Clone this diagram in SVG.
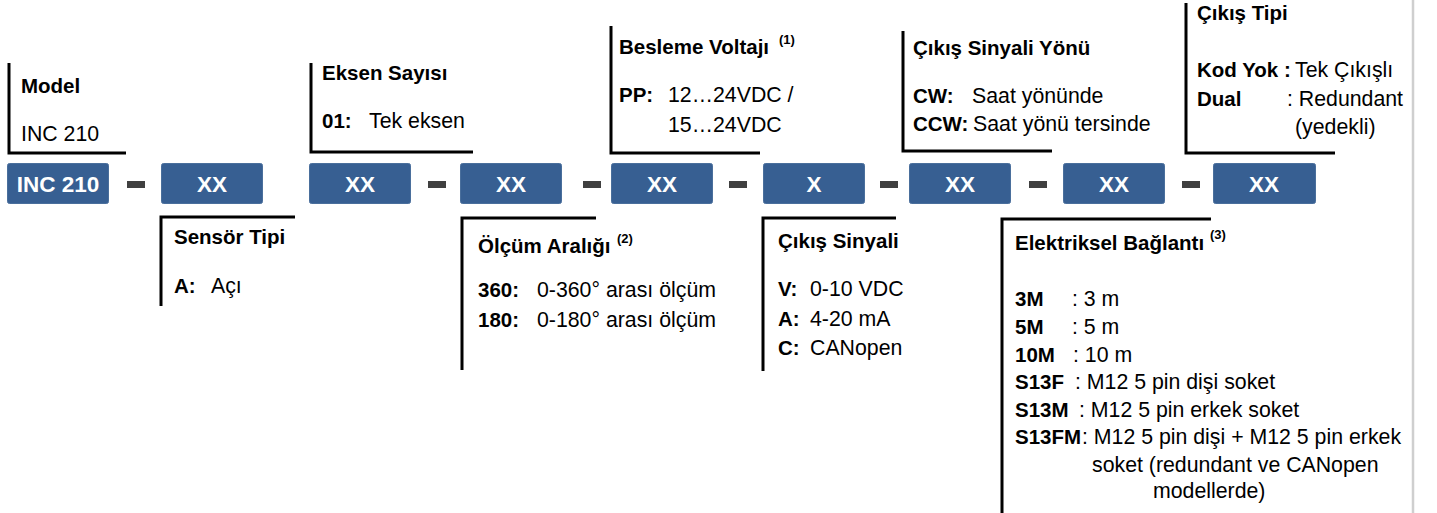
<svg xmlns="http://www.w3.org/2000/svg" width="1437" height="513" viewBox="0 0 1437 513">
<style>
text{font-family:"Liberation Sans",Arial,sans-serif;fill:#000}
.h{font-size:20.5px;font-weight:bold}
.b{font-size:20.5px;font-weight:bold}
.r{font-size:21.3px}
.sup{font-size:13px;font-weight:bold}
.box{fill:#375F92;stroke:#4a6f9c;stroke-width:1}
.bt{font-size:22.5px;font-weight:bold;fill:#fff;text-anchor:middle}
.dash{fill:#404040}
.br{fill:none;stroke:#000;stroke-width:3}
</style>
<rect width="1437" height="513" fill="#fff"/>
<line x1="1413" y1="0" x2="1413" y2="513" stroke="#cfcfcf" stroke-width="2.5"/>

<g id="connectors">
<path class="br" d="M9 63V153H126"/>
<path class="br" d="M311 63V152H473"/>
<path class="br" d="M611 26V153H760"/>
<path class="br" d="M903 31V151H1052"/>
<path class="br" d="M1186 3V153H1335"/>
<path class="br" d="M295 217H161V306"/>
<path class="br" d="M596 218H462V370"/>
<path class="br" d="M896 218H763V371"/>
<path class="br" d="M1211 219H1002V513"/>
<rect class="dash" x="127" y="181" width="18" height="7"/>
<rect class="dash" x="428" y="181" width="18" height="7"/>
<rect class="dash" x="583" y="181" width="18" height="7"/>
<rect class="dash" x="729" y="181" width="18" height="7"/>
<rect class="dash" x="880" y="181" width="18" height="7"/>
<rect class="dash" x="1029" y="181" width="18" height="7"/>
<rect class="dash" x="1182" y="181" width="18" height="7"/>
</g>

<g id="box-model"><rect class="box" x="7.5" y="163.5" width="101" height="40" rx="2"/><text class="bt" x="58" y="192">INC 210</text></g>
<g id="box-sensor"><rect class="box" x="161.5" y="163.5" width="101" height="40" rx="2"/><text class="bt" x="212" y="192">XX</text></g>
<g id="box-eksen"><rect class="box" x="309.5" y="163.5" width="101" height="40" rx="2"/><text class="bt" x="360" y="192">XX</text></g>
<g id="box-olcum"><rect class="box" x="460.5" y="163.5" width="101" height="40" rx="2"/><text class="bt" x="511" y="192">XX</text></g>
<g id="box-besleme"><rect class="box" x="611.5" y="163.5" width="101" height="40" rx="2"/><text class="bt" x="662" y="192">XX</text></g>
<g id="box-sinyal"><rect class="box" x="763.5" y="163.5" width="101" height="40" rx="2"/><text class="bt" x="814" y="192">X</text></g>
<g id="box-yon"><rect class="box" x="909.5" y="163.5" width="101" height="40" rx="2"/><text class="bt" x="960" y="192">XX</text></g>
<g id="box-baglanti"><rect class="box" x="1063.5" y="163.5" width="101" height="40" rx="2"/><text class="bt" x="1114" y="192">XX</text></g>
<g id="box-tip"><rect class="box" x="1213.5" y="163.5" width="102" height="40" rx="2"/><text class="bt" x="1264" y="192">XX</text></g>

<g id="label-model">
<text class="h" x="21" y="93">Model</text>
<text class="r" x="21" y="141">INC 210</text>
</g>
<g id="label-eksen">
<text class="h" x="322" y="80">Eksen Sayısı</text>
<text class="b" x="322" y="128">01:</text><text class="r" x="369" y="128">Tek eksen</text>
</g>
<g id="label-besleme">
<text class="h" x="619" y="54">Besleme Voltajı</text><text class="sup" x="779" y="44">(1)</text>
<text class="b" x="619" y="102">PP:</text><text class="r" x="668" y="102">12…24VDC /</text>
<text class="r" x="668" y="132">15…24VDC</text>
</g>
<g id="label-yon">
<text class="h" x="913" y="55">Çıkış Sinyali Yönü</text>
<text class="b" x="913" y="103">CW:</text><text class="r" x="972" y="103">Saat yönünde</text>
<text class="b" x="913" y="131">CCW:</text><text class="r" x="973" y="131">Saat yönü tersinde</text>
</g>
<g id="label-tip">
<text class="h" x="1197" y="20">Çıkış Tipi</text>
<text class="b" x="1197" y="77">Kod Yok :</text><text class="r" x="1295" y="77">Tek Çıkışlı</text>
<text class="b" x="1197" y="106">Dual</text><text class="r" x="1287" y="106">: Redundant</text>
<text class="r" x="1295" y="134">(yedekli)</text>
</g>
<g id="label-sensor">
<text class="h" x="174" y="244">Sensör Tipi</text>
<text class="b" x="174" y="293">A:</text><text class="r" x="211" y="293">Açı</text>
</g>
<g id="label-olcum">
<text class="h" x="478" y="253">Ölçüm Aralığı</text><text class="sup" x="617" y="243">(2)</text>
<text class="b" x="478" y="297">360:</text><text class="r" x="537" y="297">0-360° arası ölçüm</text>
<text class="b" x="478" y="327">180:</text><text class="r" x="537" y="327">0-180° arası ölçüm</text>
</g>
<g id="label-sinyal">
<text class="h" x="778" y="248">Çıkış Sinyali</text>
<text class="b" x="778" y="296">V:</text><text class="r" x="810" y="296">0-10 VDC</text>
<text class="b" x="778" y="326">A:</text><text class="r" x="810" y="326">4-20 mA</text>
<text class="b" x="778" y="355">C:</text><text class="r" x="810" y="355">CANopen</text>
</g>
<g id="label-baglanti">
<text class="h" x="1015" y="250">Elektriksel Bağlantı</text><text class="sup" x="1210" y="239">(3)</text>
<text class="b" x="1015" y="306">3M</text><text class="r" x="1072" y="306">: 3 m</text>
<text class="b" x="1015" y="334">5M</text><text class="r" x="1072" y="334">: 5 m</text>
<text class="b" x="1015" y="362">10M</text><text class="r" x="1073" y="362">: 10 m</text>
<text class="b" x="1015" y="389">S13F</text><text class="r" x="1075" y="389">: M12 5 pin dişi soket</text>
<text class="b" x="1015" y="417">S13M</text><text class="r" x="1079" y="417">: M12 5 pin erkek soket</text>
<text class="b" x="1015" y="444">S13FM</text><text class="r" x="1082" y="444">: M12 5 pin dişi + M12 5 pin erkek</text>
<text class="r" x="1092" y="472">soket (redundant ve CANopen</text>
<text class="r" x="1153" y="498">modellerde)</text>
</g>
</svg>
